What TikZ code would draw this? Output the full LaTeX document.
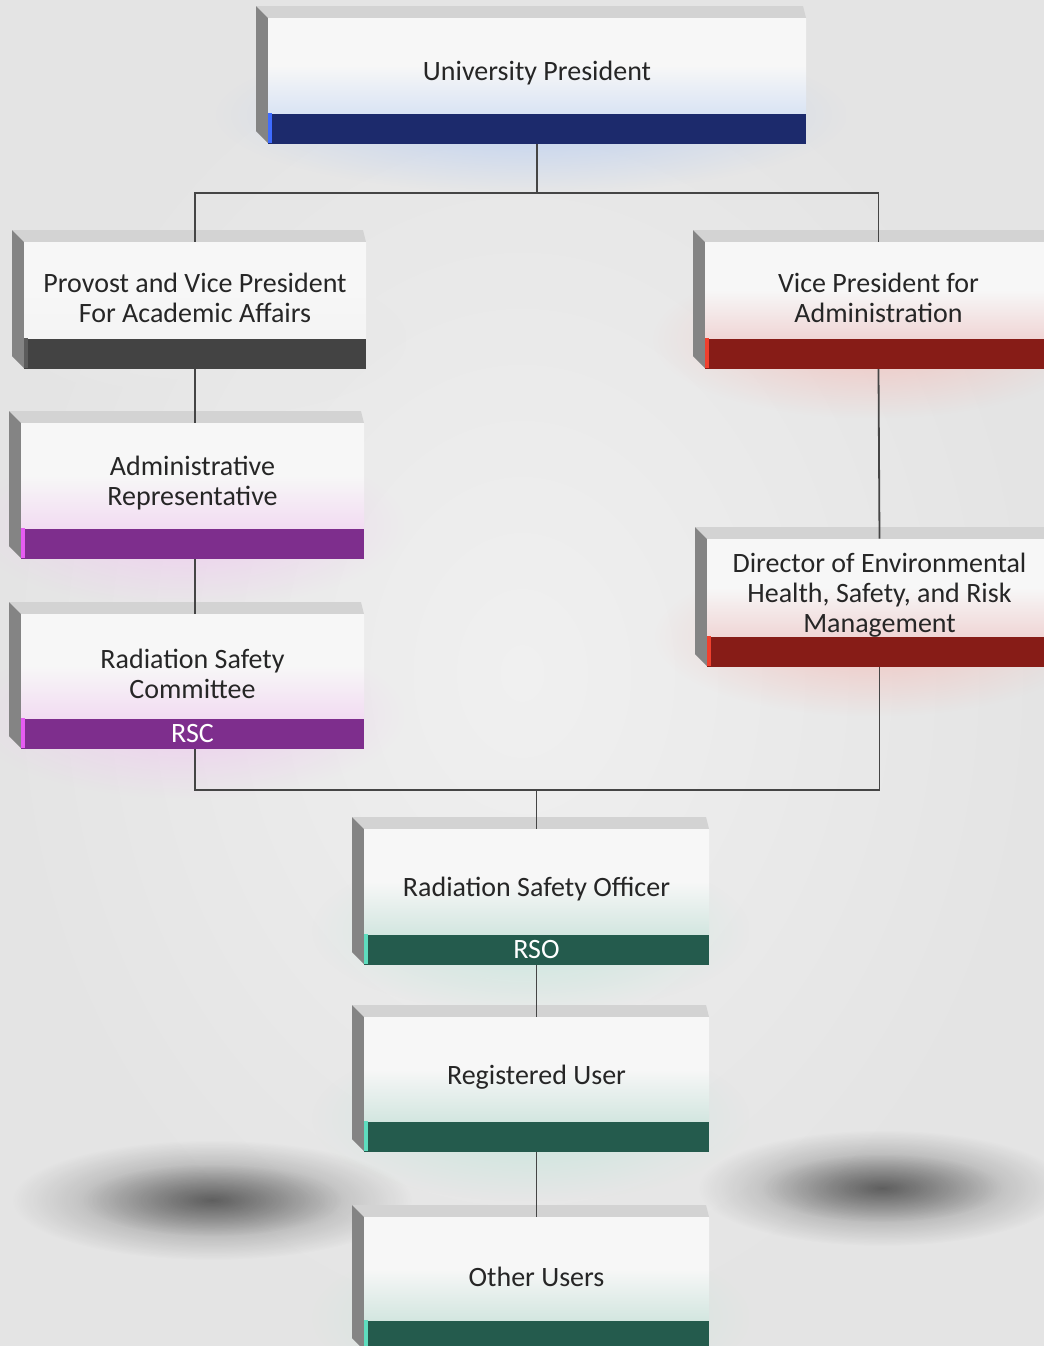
\documentclass[tikz,border=0pt]{standalone}
\usepackage{fontspec}
\setmainfont{Carlito}
\usetikzlibrary{positioning,fadings}
\tikzfading[name=fade out,inner color=transparent!0,outer color=transparent!100]
\definecolor{pagebg}{HTML}{E4E4E4}
\definecolor{pagelight}{HTML}{F0F0F0}
\definecolor{bevtop}{HTML}{D3D3D3}
\definecolor{bevside}{HTML}{848484}
\definecolor{facetop}{HTML}{F7F7F7}
\definecolor{linkgray}{HTML}{454545}
% palettes: bar, left edge, face tint, glow
\definecolor{navy-bar}{HTML}{1C2A6C}
\definecolor{navy-edge}{HTML}{3F6CFF}
\definecolor{navy-tint}{HTML}{DAE4F4}
\definecolor{navy-glow}{HTML}{BCD0F2}
\definecolor{coal-bar}{HTML}{434343}
\definecolor{coal-edge}{HTML}{5C5C5C}
\definecolor{coal-tint}{HTML}{F4F4F4}
\definecolor{coal-glow}{HTML}{E8E8E8}
\definecolor{wine-bar}{HTML}{871C17}
\definecolor{wine-edge}{HTML}{F0402E}
\definecolor{wine-tint}{HTML}{F0D6D6}
\definecolor{wine-glow}{HTML}{F2C4C0}
\definecolor{plum-bar}{HTML}{7E2E8D}
\definecolor{plum-edge}{HTML}{E65CF2}
\definecolor{plum-tint}{HTML}{F2DCF2}
\definecolor{plum-glow}{HTML}{F0CDF0}
\definecolor{teal-bar}{HTML}{245B4D}
\definecolor{teal-edge}{HTML}{5EDDBE}
\definecolor{teal-tint}{HTML}{D3E6E0}
\definecolor{teal-glow}{HTML}{C6E6DC}
\tikzset{ x=0.5pt, y=-0.5pt,
  unit face/.style={rectangle,inner sep=0pt,top color=facetop},
  unit text/.style={align=center,text=black!85,
    font=\fontsize{14}{15}\selectfont},
  unit bar/.style={rectangle,inner sep=0pt,minimum height=15pt,text=white,
    font=\fontsize{14}{15}\selectfont},
  {link/.style} ={draw=linkgray,line width=0.9pt},
  {blob/.style} ={black,opacity=#1,path fading=fade out},
 }
% #1 name, #2 left, #3 top, #4 right, #5 bar top, #6 palette, #7 text, #8 bar text
\newcommand{\orgunit}[8]{%
  \fill[#6-glow,path fading=fade out] (#2-40,#3+30) rectangle (#4+40,#5+80);
  \fill[bevtop] (#2,#3) -- (#4-3,#3) -- (#4,#3+12) -- (#2+12,#3+12) -- cycle;
  \fill[bevside] (#2,#3) -- (#2+12,#3+12) -- (#2+12,#5+30) -- (#2,#5+18) -- cycle;
  \node[unit face,bottom color=#6-tint,middle color=facetop,
        minimum width={(#4-#2-12)*0.5pt},minimum height={(#5-#3-12)*0.5pt}]
        (#1) at ({(#2+12+#4)/2},{(#3+12+#5)/2}) {};
  \node[unit text] (#1-text) at (#1.center) [yshift=-4pt] {#7};
  \node[unit bar,fill=#6-bar,minimum width={(#4-#2-12)*0.5pt},below=0pt of #1]
        (#1-bar) {#8};
  \fill[#6-edge] (#1-bar.north west) rectangle ++(2pt,-15pt);
}

\begin{document}
\begin{tikzpicture}
        \useasboundingbox (0,0) rectangle (1044,1346);
        \shade[inner color=pagelight,outer color=pagebg] (0,0) rectangle (1044,1346);
        % shadows on the floor
        \fill[blob=0.4] (212,1200) ellipse [x radius=100pt,y radius=30pt];
        \fill[blob=0.3] (212,1200) ellipse [x radius=65pt,y radius=18pt];
        \fill[blob=0.4] (882,1188) ellipse [x radius=92pt,y radius=29pt];
        \fill[blob=0.3] (882,1188) ellipse [x radius=60pt,y radius=17pt];

        \orgunit{pres}{256}{6}{806}{113}{navy}{University President}{}
        \orgunit{prov}{12}{230}{366}{338}{coal}{Provost and Vice President\\For Academic Affairs}{}
        \orgunit{vpa}{693}{230}{1052}{338}{wine}{Vice President for\\Administration}{}
        \orgunit{adm}{9}{411}{364}{528}{plum}{Administrative\\Representative}{}
        \orgunit{dir}{695}{527}{1052}{636}{wine}{Director of Environmental\\Health, Safety, and Risk\\Management}{}
        \orgunit{rsc}{9}{602}{364}{718}{plum}{Radiation Safety\\Committee}{RSC}
        \orgunit{rso}{352}{817}{709}{934}{teal}{Radiation Safety Officer}{RSO}
        \orgunit{reg}{352}{1005}{709}{1121}{teal}{Registered User}{}
        \orgunit{oth}{352}{1205}{709}{1320}{teal}{Other Users}{}

        \coordinate (top split) at (pres-bar.south |- 0,193);
        \coordinate (low split) at (rso.north |- 0,790);
        \path[link] (pres-bar.south) -- (top split);
        \path[link] (prov.north) |- (top split) -| (vpa.north);
        \path[link] (prov-bar.south) -- (prov-bar.south |- adm.north);
        \path[link] (prov-bar.south |- adm-bar.south) -- (prov-bar.south |- rsc.north);
        \path[link] (vpa-bar.south) -- (dir.north);
        \path[link] (prov-bar.south |- rsc-bar.south) |- (low split) -| (dir-bar.south);
        \path[link] (low split) -- (rso.north);
        \path[link] (rso-bar.south) -- (reg.north);
        \path[link] (reg-bar.south) -- (oth.north);
\end{tikzpicture}
\end{document}
